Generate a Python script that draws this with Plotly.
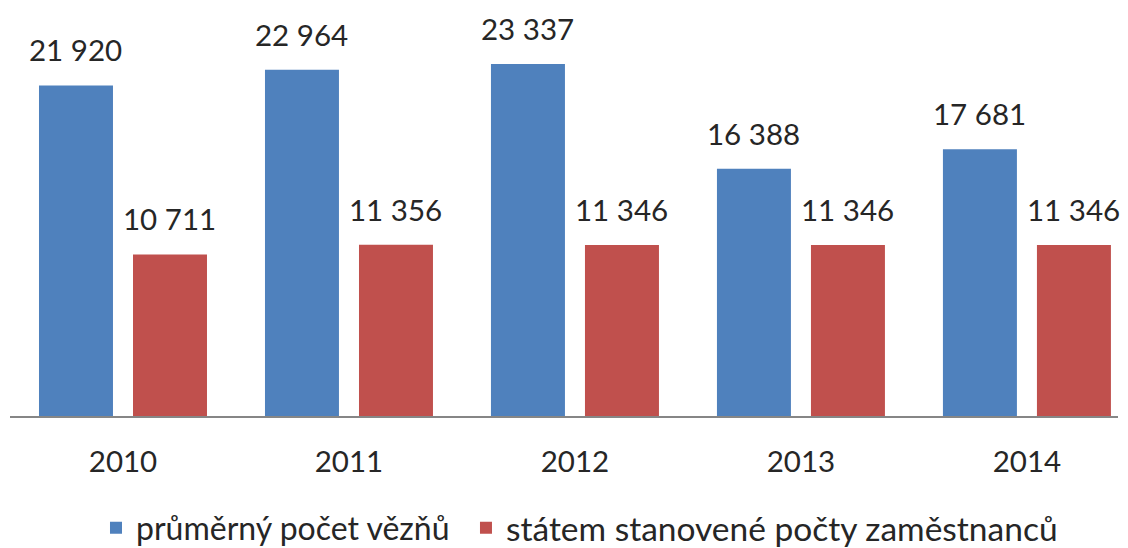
import plotly.graph_objects as go

years = ["2010", "2011", "2012", "2013", "2014"]
vezni = [21920, 22964, 23337, 16388, 17681]
zamestnanci = [10711, 11356, 11346, 11346, 11346]
names = ["průměrný počet vězňů", "státem stanovené počty zaměstnanců"]
colors = ["#4F81BD", "#C0504D"]

def fmt(v):
    return f"{v:,}".replace(",", " ")

fig = go.Figure()
for vals, name, col, lg in zip([vezni, zamestnanci], names, colors, ["legend", "legend2"]):
    fig.add_trace(go.Bar(x=years, y=vals, name=name, marker_color=col,
                         marker_line_width=0, hoverinfo="skip", legend=lg))

annotations = []
for vals, shift in zip([vezni, zamestnanci], [-47, 47]):
    for i, v in enumerate(vals):
        annotations.append(dict(x=i, y=v, xref="x", yref="y", text=fmt(v),
                                showarrow=False, xshift=shift, yshift=16,
                                yanchor="bottom",
                                font=dict(family="Lato", size=29.5, color="#262626")))

fig.update_layout(
    width=1128, height=567,
    margin=dict(l=10, r=10, t=10, b=151),
    paper_bgcolor="white", plot_bgcolor="white",
    barmode="group", bargap=0.168, bargroupgap=0.213,
    font=dict(family="Lato", size=29, color="#262626"),
    annotations=annotations,
    showlegend=True,
    legend=dict(orientation="h", xref="container", yref="container",
                x=0.0851, xanchor="left", y=0.0688, yanchor="middle",
                font=dict(family="Lato", size=32, color="#262626")),
    legend2=dict(orientation="h", xref="container", yref="container",
                 x=0.4131, xanchor="left", y=0.0688, yanchor="middle",
                 font=dict(family="Lato", size=33.5, color="#262626")),
    xaxis=dict(type="category", range=[-0.5, 4.403], showline=True, linecolor="#868686", linewidth=2,
               ticks="outside", ticklen=19, tickcolor="rgba(0,0,0,0)",
               tickfont=dict(family="Lato", size=29.5, color="#262626"), showgrid=False),
    yaxis=dict(range=[0, 26920], visible=False, showgrid=False),
)

post = """
document.body.style.margin='0';
document.body.style.overflow='hidden';
"""
fig.write_html("out.html", post_script=post, config={"displayModeBar": False})
